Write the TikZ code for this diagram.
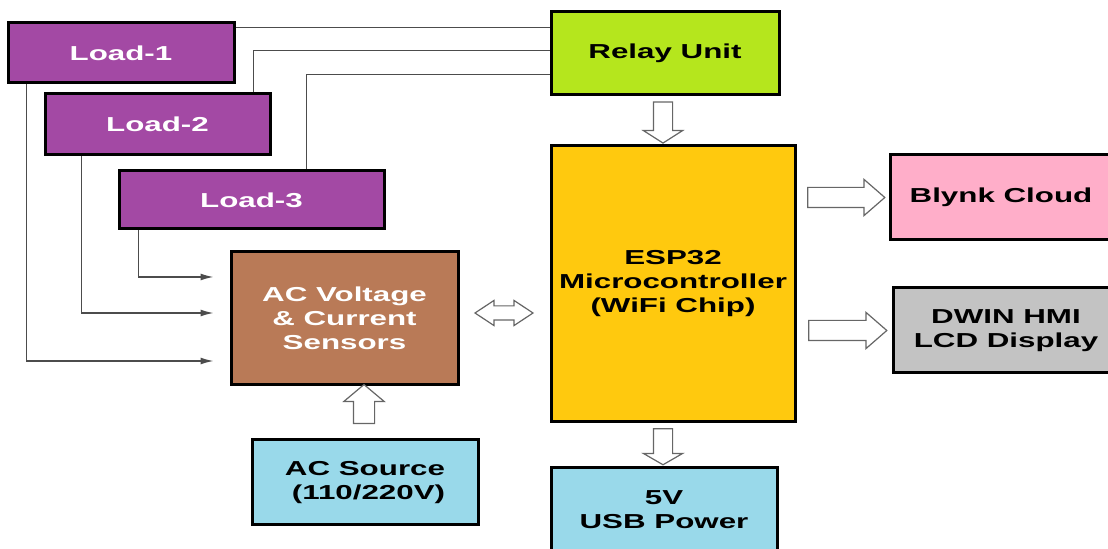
\documentclass[tikz,border=0pt]{standalone}
\usepackage{fontspec}
\setmainfont{Liberation Sans}[FakeStretch=1.55]
\usetikzlibrary{arrows.meta,positioning,calc,shapes.arrows}
\definecolor{cLoad}{HTML}{A349A4}
\definecolor{cRelay}{HTML}{B5E61D}
\definecolor{cEsp}{HTML}{FFC90E}
\definecolor{cCloud}{HTML}{FFAEC9}
\definecolor{cLcd}{HTML}{C3C3C3}
\definecolor{cPower}{HTML}{99D9EA}
\definecolor{cSense}{HTML}{B97A57}

\begin{document}
\begin{tikzpicture}[x=0.5pt, y=-0.5pt, >={Latex[length=6.5pt, width=3.5pt]},
  blk/.style={draw, line width=1.5pt, align=center, inner sep=0pt,
    font=\fontsize{10.1}{12}\selectfont\bfseries},
  wire/.style={draw=black!70, line width=0.7pt},
  harrow/.style={draw=black!60, fill=white, line width=0.6pt}]
\clip (0,0) rectangle (1108,549);
% blocks
\node[blk, fill=cLoad, text=white, minimum width=113pt, minimum height=30pt] (load1) at (121,53) {Load-1};
\node[blk, fill=cLoad, text=white, minimum width=112.5pt, minimum height=30.5pt] (load2) at (157.5,124.5) {Load-2};
\node[blk, fill=cLoad, text=white, minimum width=132.5pt, minimum height=29pt] (load3) at (251.5,200) {Load-3};
\node[blk, fill=cSense, text=white, minimum width=113.5pt, minimum height=66.5pt] (sensors) at (344.5,318.5) {AC Voltage\\\& Current\\Sensors};
\node[blk, fill=cPower, minimum width=113pt, minimum height=42.5pt] (acsrc) at (365,482.5) {AC Source\\\hspace*{3.5pt}(110/220V)};
\node[blk, fill=cRelay, minimum width=114pt, minimum height=41.5pt] (relay) at (665,53.5) {Relay Unit};
\node[blk, fill=cEsp, minimum width=122pt, minimum height=138pt] (esp) at (673,284) {ESP32\\Microcontroller\\(WiFi Chip)};
\node[blk, fill=cCloud, minimum width=111pt, minimum height=42.5pt] (blynk) at (1001,197.5) {Blynk Cloud};
\node[blk, fill=cLcd, minimum width=113pt, minimum height=42.5pt] (dwin) at (1006,330.5) {DWIN HMI\\LCD Display};
\node[blk, fill=cPower, minimum width=113pt, minimum height=42pt] (usb) at (664,510) {5V\\USB Power};
% relay lines
\coordinate (r1) at ($(relay.north west)+(0,17)$);
\coordinate (r2) at ($(relay.north west)+(0,40)$);
\coordinate (r3) at ($(relay.north west)+(0,64)$);
\draw[wire] (load1.east |- r1) -- (r1);
\draw[wire] ($(load2.north east)+(-18,0)$) |- (r2);
\draw[wire] ($(load3.north west)+(189,0)$) |- (r3);
% sensor lines
\draw[wire, ->, shorten >=8pt] ($(load1.south west)+(20,0)$) |- ($(sensors.west)+(0,42.5)$);
\draw[wire, ->, shorten >=8pt] ($(load2.south west)+(38,0)$) |- ($(sensors.west)+(0,-5.5)$);
\draw[wire, ->, shorten >=8pt] ($(load3.south west)+(21,0)$) |- ($(sensors.west)+(0,-41.5)$);
% hollow arrows
\node[harrow, single arrow, rotate=-90, minimum height=20.5pt, inner sep=4.5pt, single arrow head extend=5pt, single arrow tip angle=115] (a1) at (663,119.5) {};
\node[harrow, single arrow, rotate=90, minimum height=19.5pt, inner sep=5pt, single arrow head extend=4.75pt, single arrow tip angle=100] (a2) at (364,408.5) {};
\node[harrow, single arrow, minimum height=38.5pt, inner sep=4.75pt, single arrow head extend=4pt, single arrow tip angle=82] (a3) at (840.5,197.5) {};
\node[harrow, single arrow, minimum height=39pt, inner sep=4.75pt, single arrow head extend=4pt, single arrow tip angle=82] (a4) at (842,330.5) {};
\node[harrow, single arrow, rotate=-90, minimum height=18pt, inner sep=4.5pt, single arrow head extend=5pt, single arrow tip angle=120] (a5) at (663,444) {};
\node[harrow, double arrow, minimum height=29pt, inner sep=3.25pt, double arrow head extend=2.75pt, double arrow tip angle=67] (a6) at (504,313) {};
\end{tikzpicture}
\end{document}
